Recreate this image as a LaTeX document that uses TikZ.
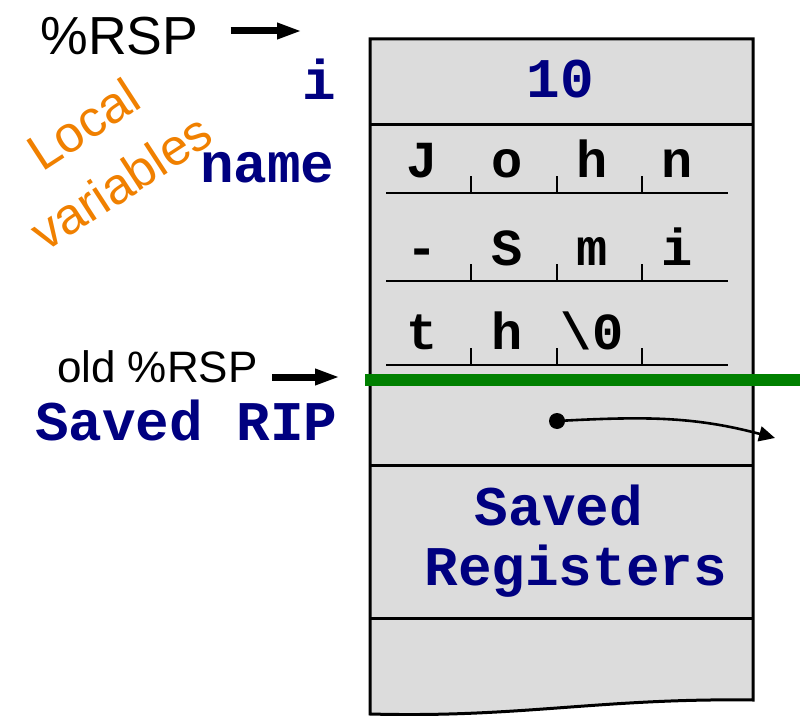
\documentclass[tikz,border=0pt]{standalone}
\usepackage{fontspec}
\setmainfont{Liberation Sans}
\setmonofont{Liberation Mono}
\usepackage{tikz}
\usetikzlibrary{arrows.meta}
\definecolor{slotgray}{RGB}{220,220,220}
\definecolor{codeblue}{RGB}{0,0,128}
\definecolor{spgreen}{RGB}{0,128,0}
\definecolor{varorange}{RGB}{240,128,0}

\begin{document}
\begin{tikzpicture}[x=0.5pt,y=0.5pt,
                    code/.style={font=\fontsize{28}{30}\selectfont\ttfamily\bfseries,text=codeblue,inner sep=0pt},
                    chr/.style={font=\fontsize{26}{28}\selectfont\ttfamily\bfseries,inner sep=0pt,anchor=base},
                    reg/.style={font=\fontsize{22}{24}\selectfont,inner sep=0pt},
                    ptr/.style={-{Triangle[length=12.5pt,width=7.5pt]},line width=3.5pt},
                    ret/.style={-{Triangle[length=8pt,width=7.5pt]},line width=1.3pt}]

  \useasboundingbox (0,0) rectangle (802,-716);

  % the frame on the stack
  \draw[line width=1.5pt,fill=slotgray] (370,-39) -- (753,-39) -- (753,-700)
     .. controls (600,-698) and (520,-718) .. (370,-714) -- cycle;
  \foreach \y in {125,465,618}
    \draw[line width=1.5pt] (370,-\y) -- (753,-\y);

  % the chars of name
  \foreach \y/\chars in {193/{J,o,h,n}, 281/{-,S,m,i}, 365/{t,h,\textbackslash0}} {
    \draw[line width=1pt] (386,-\y) -- (728,-\y);
    \foreach \x in {471,557,642}
      \draw[line width=1pt] (\x,-\y) -- (\x,-\y+17);
    \foreach \ch [count=\k] in \chars
      \node[chr] (c\y-\k) at (337+85*\k,-\y+15) {\ch};
  }

  \draw[spgreen,line width=6pt] (365,-380) -- (800,-380);

  \node[code,anchor=base east] (ilabel) at (337,-100) {i};
  \node[code,anchor=base] (ival) at (560,-98) {10};
  \node[code,anchor=base east] (namelabel) at (335,-183) {name};
  \node[code,anchor=base east] (riplabel) at (338,-440) {Saved RIP};
  \node[code,align=center] (regs) at (559,-541) {Saved\\\hphantom{S}Registers};

  \node[reg,font=\fontsize{26.8}{28}\selectfont,anchor=base west] (rsp) at (40,-55) {\%RSP};
  \node[reg,anchor=base east] (oldrsp) at (258,-382) {old \%RSP};
  \node[text=varorange,font=\fontsize{25.5}{34.5}\selectfont,align=center,rotate=33,inner sep=0pt] (localvars) at (102,-153) {Local\\variables};

  \coordinate (rsptip) at (302,-31);
  \coordinate (oldtip) at (340,-377);
  \draw[ptr,shorten <=16pt] (rsp.east |- rsptip) -- (rsptip);
  \draw[ptr,shorten <=7pt] (oldrsp.east |- oldtip) -- (oldtip);

  \node[circle,fill,inner sep=0pt,minimum size=8pt] (ripdot) at (557,-421) {};
  \coordinate (ripret) at (775,-438);
  \draw[ret] (ripdot.center) to[out=3,in=165] (ripret);
\end{tikzpicture}
\end{document}
